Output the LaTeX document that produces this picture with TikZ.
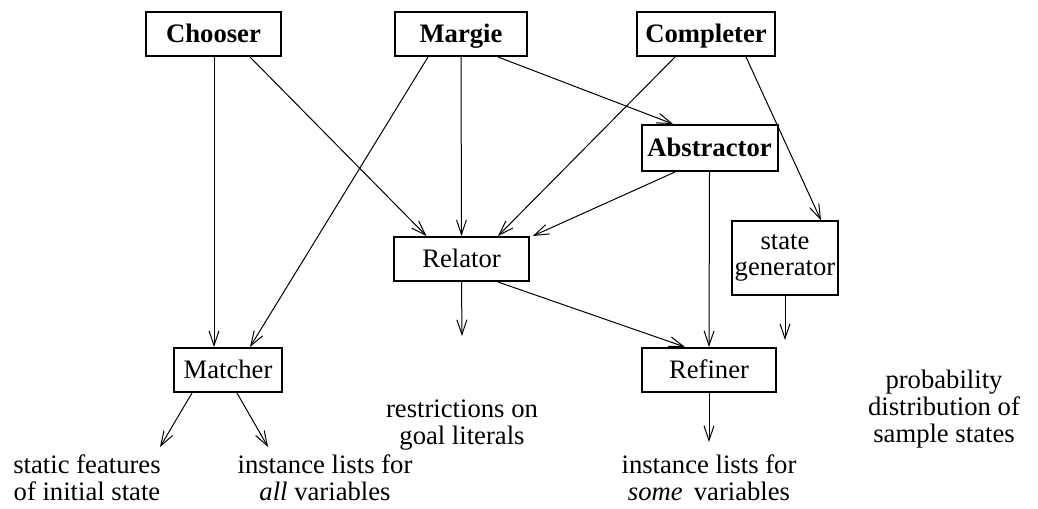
\documentclass[tikz,border=0pt]{standalone}
\usepackage{fontspec}
\setmainfont{Liberation Serif}
\usetikzlibrary{arrows.meta,calc}
\tikzset{
  centered/.style = { align=center, anchor=center },
       box/.style = { draw, line width=1.5pt, centered, inner sep=0pt,
                      minimum height=33pt, font=\fontsize{20}{20}\selectfont },
    module/.style = { box, text height=17pt, text depth=4pt },
   bmodule/.style = { module, font=\fontsize{20}{20}\selectfont\bfseries },
    result/.style = { centered, inner sep=0pt, font=\fontsize{20}{20}\selectfont },
     arrow/.style = { line width=0.75pt, -{Straight Barb[length=11pt,width=7.5pt]} }
}

\begin{document}
\begin{tikzpicture}[x=0.75pt, y=-0.75pt]
  \useasboundingbox (0,0) rectangle (1038,508);

  % modules
  \node[bmodule, minimum width=101pt] (chooser)    at (213.5,34)  {Chooser};
  \node[bmodule, minimum width=99pt]  (margie)     at (461,34)    {Margie};
  \node[bmodule, minimum width=103pt] (completer)  at (706,34)    {Completer};
  \node[bmodule, minimum width=102pt, minimum height=34.5pt]
                                      (abstractor) at (709.5,148) {Abstractor};
  \node[module, minimum width=101pt]  (relator)    at (461.5,259) {Relator};
  \node[box, minimum width=80pt, minimum height=55pt]
                                      (stategen)   at (785,258)   {state\\generator};
  \node[module, minimum width=81pt]   (matcher)    at (228,370)   {Matcher};
  \node[module, minimum width=100pt]  (refiner)    at (709,370)   {Refiner};

  % what comes out
  \node[result] (static)   at (87,478)  {static features\\of initial state};
  \node[result] (allvars)  at (325,478) {instance lists for\\\textit{all} variables};
  \node[result] (restrict) at (462,425) {restrictions on\\goal literals};
  \node[result] (somevars) at (709,478) {instance lists for\\\textit{some}\, variables};
  \node[result] (prob)     at (944,409) {probability\\distribution of\\sample states};

  \coordinate (static-in)   at (160,447);
  \coordinate (allvars-in)  at (268,447);
  \coordinate (restrict-in) at (462,336);
  \coordinate (somevars-in) at (709,442);
  \coordinate (prob-in)     at (785,340);

  % module links
  \draw [arrow] ($(chooser.south)+(0.5,0)$)   -- ($(matcher.north)+(-14,0)$);
  \draw [arrow] ($(chooser.south)+(36.5,0)$)  -- ($(relator.north)+(-35,0)$);
  \draw [arrow] ($(margie.south)+(-33,0)$)    -- ($(matcher.north)+(22,0)$);
  \draw [arrow] (margie.south)                -- (relator.north);
  \draw [arrow] ($(margie.south)+(37,0)$)     -- ($(abstractor.north)+(-36.5,0)$);
  \draw [arrow] ($(completer.south)+(-31,0)$) -- ($(relator.north)+(36.5,0)$);
  \draw [arrow] ($(completer.south)+(40,0)$)  -- ($(stategen.north)+(36,0)$);
  \draw [arrow] ($(abstractor.south)+(-34.5,0)$) -- ($(relator.north east)+(3,0)$);
  \draw [arrow] (abstractor.south)            -- (refiner.north);
  \draw [arrow] ($(relator.south)+(36.5,0)$)  -- ($(refiner.north)+(-24,0)$);

  % outputs
  \draw [arrow] ($(matcher.south)+(-36,0)$)   -- (static-in);
  \draw [arrow] ($(matcher.south)+(9,0)$)     -- (allvars-in);
  \draw [arrow] (relator.south)               -- (restrict-in);
  \draw [arrow] (refiner.south)               -- (somevars-in);
  \draw [arrow] (stategen.south)              -- (prob-in);
\end{tikzpicture}
\end{document}
